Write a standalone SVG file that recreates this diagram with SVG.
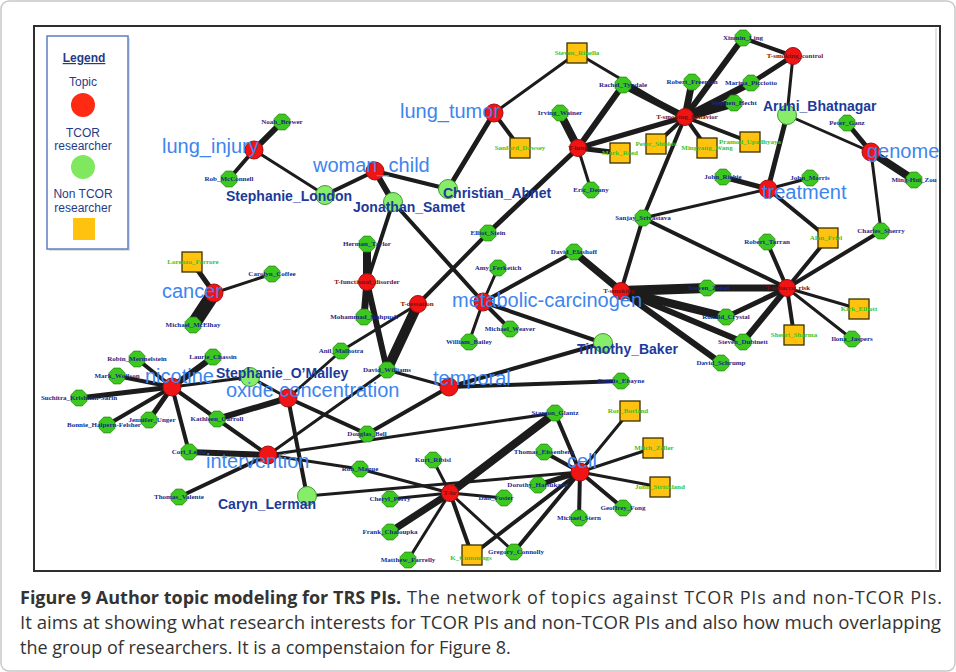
<svg xmlns="http://www.w3.org/2000/svg" width="956" height="672" viewBox="0 0 956 672">
<defs>
<polygon id="oct" points="7.9,3.3 3.3,7.9 -3.3,7.9 -7.9,3.3 -7.9,-3.3 -3.3,-7.9 3.3,-7.9 7.9,-3.3"/>
<rect id="sq" x="-10" y="-10" width="20" height="20"/>
<style>
.e{stroke:#1c1c1c;stroke-linecap:round;fill:none}
.topic{fill:#f01414;stroke:#a01010;stroke-width:1}
.tcor{fill:#86ec6a;stroke:#3f9a30;stroke-width:1}
.res{fill:#3cc81e;stroke:#2a8a14;stroke-width:0.8}
.non{fill:#ffc20e;stroke:#3a3000;stroke-width:1.3}
.tl{font-family:"Liberation Sans",Arial,sans-serif;font-size:20px;fill:#3d85ee}
.tc{font-family:"Liberation Sans",Arial,sans-serif;font-weight:bold;font-size:14px;fill:#1c3a9a}
.sl{font-family:"Liberation Serif","Times New Roman",serif;font-weight:bold;font-size:7px;fill:#1a2a8c;text-anchor:middle}
.gl{font-family:"Liberation Serif","Times New Roman",serif;font-weight:bold;font-size:7px;fill:#3cc228;text-anchor:middle}
.rl{font-family:"Liberation Serif","Times New Roman",serif;font-weight:bold;font-size:7px;fill:#7a1010;text-anchor:middle}
.lg{font-family:"Liberation Sans",Arial,sans-serif;font-size:12px;fill:#1f3c88;text-anchor:middle}
.cap{font-family:"Open Sans","Liberation Sans",sans-serif;font-size:18px;fill:#333}
</style>
</defs>
<rect x="1" y="1" width="954" height="670" rx="8" fill="#fff" stroke="#c8c8c8" stroke-width="1.5"/>
<rect x="34" y="26" width="906" height="545" fill="#fff" stroke="#2e2e2e" stroke-width="2"/>
<line x1="936" y1="28" x2="936" y2="569" stroke="#d8d8d8" stroke-width="1.5"/>

<g id="legend">
<rect x="49" y="38" width="81" height="213" fill="#c8c8c8" opacity="0.6"/>
<rect x="47" y="36" width="81" height="213" fill="#fff" stroke="#5b7fc0" stroke-width="1.5"/>
<text class="lg" x="84" y="62" font-weight="bold" text-decoration="underline">Legend</text>
<text class="lg" x="83" y="86">Topic</text>
<circle cx="83" cy="105" r="12" fill="#ff2a14"/>
<text class="lg" x="83" y="137">TCOR</text>
<text class="lg" x="83" y="150">researcher</text>
<circle cx="83" cy="167" r="12" fill="#7fe85e"/>
<text class="lg" x="83" y="198">Non TCOR</text>
<text class="lg" x="83" y="212">researcher</text>
<rect x="73" y="218" width="22" height="22" fill="#ffc20e"/>
</g>

<g id="connectors">
<line class="e" x1="254" y1="150" x2="282" y2="122" stroke-width="6"/>
<line class="e" x1="254" y1="150" x2="229" y2="179" stroke-width="4"/>
<line class="e" x1="254" y1="150" x2="325" y2="195" stroke-width="3"/>
<line class="e" x1="375" y1="171" x2="325" y2="195" stroke-width="4"/>
<line class="e" x1="375" y1="171" x2="393" y2="202" stroke-width="6"/>
<line class="e" x1="375" y1="171" x2="448" y2="189" stroke-width="4"/>
<line class="e" x1="494" y1="113" x2="448" y2="189" stroke-width="5"/>
<line class="e" x1="494" y1="113" x2="577" y2="53" stroke-width="3"/>
<line class="e" x1="494" y1="113" x2="520" y2="148" stroke-width="4"/>
<line class="e" x1="578" y1="148" x2="560" y2="113" stroke-width="8"/>
<line class="e" x1="578" y1="148" x2="623" y2="85" stroke-width="6"/>
<line class="e" x1="578" y1="148" x2="620" y2="153" stroke-width="5"/>
<line class="e" x1="578" y1="148" x2="591" y2="190" stroke-width="3"/>
<line class="e" x1="578" y1="148" x2="685" y2="117" stroke-width="5"/>
<line class="e" x1="578" y1="148" x2="488" y2="233" stroke-width="5"/>
<line class="e" x1="418" y1="304" x2="488" y2="233" stroke-width="4"/>
<line class="e" x1="393" y1="202" x2="483" y2="302" stroke-width="4"/>
<line class="e" x1="393" y1="202" x2="367" y2="282" stroke-width="4"/>
<line class="e" x1="367" y1="282" x2="367" y2="244" stroke-width="8"/>
<line class="e" x1="367" y1="282" x2="364" y2="317" stroke-width="7"/>
<line class="e" x1="367" y1="282" x2="387" y2="370" stroke-width="6"/>
<line class="e" x1="418" y1="304" x2="387" y2="370" stroke-width="10"/>
<line class="e" x1="418" y1="304" x2="341" y2="351" stroke-width="3"/>
<line class="e" x1="341" y1="351" x2="288" y2="398" stroke-width="3"/>
<line class="e" x1="214" y1="293" x2="192" y2="262" stroke-width="5"/>
<line class="e" x1="214" y1="293" x2="193" y2="325" stroke-width="14"/>
<line class="e" x1="214" y1="293" x2="272" y2="274" stroke-width="3"/>
<line class="e" x1="172" y1="387" x2="137" y2="359" stroke-width="4"/>
<line class="e" x1="172" y1="387" x2="213" y2="357" stroke-width="6"/>
<line class="e" x1="172" y1="387" x2="117" y2="376" stroke-width="4"/>
<line class="e" x1="172" y1="387" x2="79" y2="398" stroke-width="5"/>
<line class="e" x1="172" y1="387" x2="107" y2="425" stroke-width="4"/>
<line class="e" x1="172" y1="387" x2="149" y2="420" stroke-width="5"/>
<line class="e" x1="172" y1="387" x2="217" y2="419" stroke-width="4"/>
<line class="e" x1="172" y1="387" x2="189" y2="452" stroke-width="4"/>
<line class="e" x1="172" y1="387" x2="250" y2="377" stroke-width="3"/>
<line class="e" x1="250" y1="377" x2="288" y2="398" stroke-width="3"/>
<line class="e" x1="288" y1="398" x2="217" y2="419" stroke-width="6"/>
<line class="e" x1="288" y1="398" x2="367" y2="434" stroke-width="4"/>
<line class="e" x1="288" y1="398" x2="307" y2="496" stroke-width="4"/>
<line class="e" x1="268" y1="455" x2="217" y2="419" stroke-width="4"/>
<line class="e" x1="268" y1="455" x2="189" y2="452" stroke-width="6"/>
<line class="e" x1="268" y1="455" x2="179" y2="497" stroke-width="4"/>
<line class="e" x1="268" y1="455" x2="387" y2="370" stroke-width="3"/>
<line class="e" x1="268" y1="455" x2="555" y2="413" stroke-width="3"/>
<line class="e" x1="268" y1="455" x2="360" y2="469" stroke-width="3"/>
<line class="e" x1="449" y1="387" x2="367" y2="434" stroke-width="4"/>
<line class="e" x1="449" y1="387" x2="603" y2="343" stroke-width="4"/>
<line class="e" x1="449" y1="387" x2="621" y2="381" stroke-width="4"/>
<line class="e" x1="449" y1="387" x2="387" y2="370" stroke-width="3"/>
<line class="e" x1="483" y1="302" x2="498" y2="268" stroke-width="3"/>
<line class="e" x1="483" y1="302" x2="574" y2="252" stroke-width="4"/>
<line class="e" x1="483" y1="302" x2="510" y2="329" stroke-width="4"/>
<line class="e" x1="483" y1="302" x2="469" y2="342" stroke-width="3"/>
<line class="e" x1="483" y1="302" x2="603" y2="343" stroke-width="4"/>
<line class="e" x1="621" y1="291" x2="574" y2="252" stroke-width="7"/>
<line class="e" x1="621" y1="291" x2="643" y2="218" stroke-width="4"/>
<line class="e" x1="621" y1="291" x2="707" y2="288" stroke-width="10"/>
<line class="e" x1="621" y1="291" x2="726" y2="317" stroke-width="8"/>
<line class="e" x1="621" y1="291" x2="743" y2="342" stroke-width="6"/>
<line class="e" x1="621" y1="291" x2="721" y2="363" stroke-width="6"/>
<line class="e" x1="643" y1="218" x2="685" y2="117" stroke-width="4"/>
<line class="e" x1="643" y1="218" x2="768" y2="189" stroke-width="3"/>
<line class="e" x1="643" y1="218" x2="787" y2="288" stroke-width="4"/>
<line class="e" x1="787" y1="288" x2="707" y2="288" stroke-width="7"/>
<line class="e" x1="787" y1="288" x2="767" y2="242" stroke-width="4"/>
<line class="e" x1="787" y1="288" x2="828" y2="238" stroke-width="4"/>
<line class="e" x1="787" y1="288" x2="881" y2="231" stroke-width="4"/>
<line class="e" x1="787" y1="288" x2="859" y2="309" stroke-width="3"/>
<line class="e" x1="787" y1="288" x2="852" y2="339" stroke-width="3"/>
<line class="e" x1="787" y1="288" x2="794" y2="335" stroke-width="4"/>
<line class="e" x1="787" y1="288" x2="743" y2="342" stroke-width="6"/>
<line class="e" x1="787" y1="288" x2="726" y2="317" stroke-width="5"/>
<line class="e" x1="768" y1="189" x2="723" y2="177" stroke-width="5"/>
<line class="e" x1="768" y1="189" x2="810" y2="178" stroke-width="3"/>
<line class="e" x1="768" y1="189" x2="787" y2="115" stroke-width="5"/>
<line class="e" x1="768" y1="189" x2="828" y2="238" stroke-width="4"/>
<line class="e" x1="787" y1="115" x2="871" y2="152" stroke-width="3"/>
<line class="e" x1="787" y1="115" x2="793" y2="56" stroke-width="3"/>
<line class="e" x1="871" y1="152" x2="847" y2="123" stroke-width="5"/>
<line class="e" x1="871" y1="152" x2="914" y2="180" stroke-width="8"/>
<line class="e" x1="871" y1="152" x2="881" y2="231" stroke-width="3"/>
<line class="e" x1="793" y1="56" x2="743" y2="38" stroke-width="4"/>
<line class="e" x1="793" y1="56" x2="751" y2="83" stroke-width="5"/>
<line class="e" x1="685" y1="117" x2="743" y2="38" stroke-width="6"/>
<line class="e" x1="685" y1="117" x2="692" y2="82" stroke-width="7"/>
<line class="e" x1="685" y1="117" x2="623" y2="85" stroke-width="7"/>
<line class="e" x1="685" y1="117" x2="577" y2="53" stroke-width="3"/>
<line class="e" x1="685" y1="117" x2="751" y2="83" stroke-width="7"/>
<line class="e" x1="685" y1="117" x2="734" y2="103" stroke-width="9"/>
<line class="e" x1="685" y1="117" x2="656" y2="144" stroke-width="4"/>
<line class="e" x1="685" y1="117" x2="707" y2="148" stroke-width="4"/>
<line class="e" x1="685" y1="117" x2="750" y2="142" stroke-width="4"/>
<line class="e" x1="450" y1="493" x2="433" y2="460" stroke-width="3"/>
<line class="e" x1="450" y1="493" x2="390" y2="499" stroke-width="3"/>
<line class="e" x1="450" y1="493" x2="390" y2="532" stroke-width="7"/>
<line class="e" x1="450" y1="493" x2="408" y2="560" stroke-width="3"/>
<line class="e" x1="450" y1="493" x2="472" y2="555" stroke-width="4"/>
<line class="e" x1="450" y1="493" x2="360" y2="469" stroke-width="3"/>
<line class="e" x1="450" y1="493" x2="555" y2="413" stroke-width="8"/>
<line class="e" x1="450" y1="493" x2="504" y2="498" stroke-width="3"/>
<line class="e" x1="450" y1="493" x2="514" y2="552" stroke-width="3"/>
<line class="e" x1="307" y1="496" x2="580" y2="472" stroke-width="3"/>
<line class="e" x1="580" y1="472" x2="555" y2="413" stroke-width="4"/>
<line class="e" x1="580" y1="472" x2="544" y2="452" stroke-width="4"/>
<line class="e" x1="580" y1="472" x2="630" y2="411" stroke-width="3"/>
<line class="e" x1="580" y1="472" x2="653" y2="448" stroke-width="3"/>
<line class="e" x1="580" y1="472" x2="660" y2="487" stroke-width="3"/>
<line class="e" x1="580" y1="472" x2="623" y2="508" stroke-width="4"/>
<line class="e" x1="580" y1="472" x2="579" y2="518" stroke-width="4"/>
<line class="e" x1="580" y1="472" x2="538" y2="485" stroke-width="5"/>
<line class="e" x1="580" y1="472" x2="514" y2="552" stroke-width="4"/>
<line class="e" x1="580" y1="472" x2="472" y2="555" stroke-width="4"/>
</g>

<!-- small researcher nodes -->
<g id="n-noah-brewer"><use href="#oct" class="res" x="282" y="122"/><text class="sl" x="282" y="124">Noah_Brewer</text></g>
<g id="n-rob-mcconnell"><use href="#oct" class="res" x="229" y="179"/><text class="sl" x="229" y="181">Rob_McConnell</text></g>
<g id="n-carolyn-coffee"><use href="#oct" class="res" x="272" y="274"/><text class="sl" x="272" y="276">Carolyn_Coffee</text></g>
<g id="n-michael-mcelhay"><use href="#oct" class="res" x="193" y="325"/><text class="sl" x="193" y="327">Michael_McElhay</text></g>
<g id="n-herman-taylor"><use href="#oct" class="res" x="367" y="244"/><text class="sl" x="367" y="246">Herman_Taylor</text></g>
<g id="n-mohammad"><use href="#oct" class="res" x="364" y="317"/><text class="sl" x="364" y="319">Mohammad_Siahpush</text></g>
<g id="n-anil"><use href="#oct" class="res" x="341" y="351"/><text class="sl" x="341" y="353">Anil_Malhotra</text></g>
<g id="n-david-williams"><use href="#oct" class="res" x="387" y="370"/><text class="sl" x="387" y="372">David_Williams</text></g>
<g id="n-elliot-stein"><use href="#oct" class="res" x="488" y="233"/><text class="sl" x="488" y="235">Elliot_Stein</text></g>
<g id="n-amy"><use href="#oct" class="res" x="498" y="268"/><text class="sl" x="498" y="270">Amy_Ferketich</text></g>
<g id="n-michael-weaver"><use href="#oct" class="res" x="510" y="329"/><text class="sl" x="510" y="331">Michael_Weaver</text></g>
<g id="n-william-bailey"><use href="#oct" class="res" x="469" y="342"/><text class="sl" x="469" y="344">William_Bailey</text></g>
<g id="n-david-elashoff"><use href="#oct" class="res" x="574" y="252"/><text class="sl" x="574" y="254">David_Elashoff</text></g>
<g id="n-sanjay"><use href="#oct" class="res" x="643" y="218"/><text class="sl" x="643" y="220">Sanjay_Srivastava</text></g>
<g id="n-steven-zeisel"><use href="#oct" class="res" x="707" y="288"/><text class="sl" x="709" y="290">Steven_Zeisel</text></g>
<g id="n-ronald-crystal"><use href="#oct" class="res" x="726" y="317"/><text class="sl" x="726" y="319">Ronald_Crystal</text></g>
<g id="n-steven-dubinett"><use href="#oct" class="res" x="743" y="342"/><text class="sl" x="743" y="344">Steven_Dubinett</text></g>
<g id="n-david-schrump"><use href="#oct" class="res" x="721" y="363"/><text class="sl" x="721" y="365">David_Schrump</text></g>
<g id="n-robert-tarran"><use href="#oct" class="res" x="767" y="242"/><text class="sl" x="767" y="244">Robert_Tarran</text></g>
<g id="n-charles"><use href="#oct" class="res" x="881" y="231"/><text class="sl" x="881" y="233">Charles_Sherry</text></g>
<g id="n-ilona"><use href="#oct" class="res" x="852" y="339"/><text class="sl" x="852" y="341">Ilona_Jaspers</text></g>
<g id="n-peter-ganz"><use href="#oct" class="res" x="847" y="123"/><text class="sl" x="847" y="125">Peter_Ganz</text></g>
<g id="n-ming-hui"><use href="#oct" class="res" x="914" y="180"/><text class="sl" x="914" y="182">Ming-Hui_Zou</text></g>
<g id="n-john-morris"><use href="#oct" class="res" x="810" y="178"/><text class="sl" x="810" y="180">John_Morris</text></g>
<g id="n-john-richie"><use href="#oct" class="res" x="723" y="177"/><text class="sl" x="723" y="179">John_Richie</text></g>
<g id="n-xinmin"><use href="#oct" class="res" x="743" y="38"/><text class="sl" x="743" y="40">Xinmin_Ling</text></g>
<g id="n-marina"><use href="#oct" class="res" x="751" y="83"/><text class="sl" x="751" y="85">Marina_Picciotto</text></g>
<g id="n-stephen-hecht"><use href="#oct" class="res" x="734" y="103"/><text class="sl" x="734" y="105">Stephen_Hecht</text></g>
<g id="n-robert-freeman"><use href="#oct" class="res" x="692" y="82"/><text class="sl" x="692" y="84">Robert_Freeman</text></g>
<g id="n-rachel"><use href="#oct" class="res" x="623" y="85"/><text class="sl" x="623" y="87">Rachel_Tyndale</text></g>
<g id="n-irving"><use href="#oct" class="res" x="560" y="113"/><text class="sl" x="560" y="115">Irving_Wainer</text></g>
<g id="n-eric"><use href="#oct" class="res" x="591" y="190"/><text class="sl" x="591" y="192">Eric_Deany</text></g>
<g id="n-robin"><use href="#oct" class="res" x="137" y="359"/><text class="sl" x="137" y="361">Robin_Mermelstein</text></g>
<g id="n-laurie"><use href="#oct" class="res" x="213" y="357"/><text class="sl" x="213" y="359">Laurie_Chassin</text></g>
<g id="n-mark-wolfson"><use href="#oct" class="res" x="117" y="376"/><text class="sl" x="117" y="378">Mark_Wolfson</text></g>
<g id="n-suchitra"><use href="#oct" class="res" x="79" y="398"/><text class="sl" x="79" y="400">Suchitra_Krishnan-Sarin</text></g>
<g id="n-bonnie"><use href="#oct" class="res" x="107" y="425"/><text class="sl" x="104" y="427">Bonnie_Halpern-Felsher</text></g>
<g id="n-jennifer"><use href="#oct" class="res" x="149" y="420"/><text class="sl" x="152" y="422">Jennifer_Unger</text></g>
<g id="n-kathleen"><use href="#oct" class="res" x="217" y="419"/><text class="sl" x="217" y="421">Kathleen_Carroll</text></g>
<g id="n-cori"><use href="#oct" class="res" x="189" y="452"/><text class="sl" x="189" y="454">Cori_Leslie</text></g>
<g id="n-thomas-valente"><use href="#oct" class="res" x="179" y="497"/><text class="sl" x="179" y="499">Thomas_Valente</text></g>
<g id="n-douglas"><use href="#oct" class="res" x="367" y="434"/><text class="sl" x="367" y="436">Douglas_Bell</text></g>
<g id="n-ron-mague"><use href="#oct" class="res" x="360" y="469"/><text class="sl" x="360" y="471">Ron_Mague</text></g>
<g id="n-kurt"><use href="#oct" class="res" x="433" y="460"/><text class="sl" x="433" y="462">Kurt_Ribisl</text></g>
<g id="n-cheryl"><use href="#oct" class="res" x="390" y="499"/><text class="sl" x="390" y="501">Cheryl_Perry</text></g>
<g id="n-frank"><use href="#oct" class="res" x="390" y="532"/><text class="sl" x="390" y="534">Frank_Chaloupka</text></g>
<g id="n-matthew"><use href="#oct" class="res" x="408" y="560"/><text class="sl" x="408" y="562">Matthew_Farrelly</text></g>
<g id="n-dennis"><use href="#oct" class="res" x="621" y="381"/><text class="sl" x="621" y="383">Dennis_Ebayne</text></g>
<g id="n-stanton"><use href="#oct" class="res" x="555" y="413"/><text class="sl" x="555" y="415">Stanton_Glantz</text></g>
<g id="n-thomas-e"><use href="#oct" class="res" x="544" y="452"/><text class="sl" x="544" y="454">Thomas_Eissenberg</text></g>
<g id="n-dorothy"><use href="#oct" class="res" x="538" y="485"/><text class="sl" x="538" y="487">Dorothy_Hatsukami</text></g>
<g id="n-dan-foster"><use href="#oct" class="res" x="504" y="498"/><text class="sl" x="496" y="500">Dan_Foster</text></g>
<g id="n-geoffrey"><use href="#oct" class="res" x="623" y="508"/><text class="sl" x="623" y="510">Geoffrey_Fong</text></g>
<g id="n-michael-stern"><use href="#oct" class="res" x="579" y="518"/><text class="sl" x="579" y="520">Michael_Stern</text></g>
<g id="n-gregory"><use href="#oct" class="res" x="514" y="552"/><text class="sl" x="516" y="554">Gregory_Connolly</text></g>

<!-- non TCOR researchers -->
<g id="n-lorenzo"><use href="#sq" class="non" x="192" y="262"/><text class="gl" x="193" y="264">Lorenzo_Ferrore</text></g>
<g id="n-albert"><use href="#sq" class="non" x="828" y="238"/><text class="gl" x="826" y="240">Alan_Friel</text></g>
<g id="n-kirk"><use href="#sq" class="non" x="859" y="309"/><text class="gl" x="859" y="311">Kirk_Elliott</text></g>
<g id="n-sherri"><use href="#sq" class="non" x="794" y="335"/><text class="gl" x="794" y="337">Sherri_Sharma</text></g>
<g id="n-steven-rinella"><use href="#sq" class="non" x="577" y="53"/><text class="gl" x="577" y="55">Steven_Rinella</text></g>
<g id="n-sanford"><use href="#sq" class="non" x="520" y="148"/><text class="gl" x="520" y="150">Sanford_Dawsey</text></g>
<g id="n-mark-reed"><use href="#sq" class="non" x="620" y="153"/><text class="gl" x="620" y="155">Mark_Reed</text></g>
<g id="n-peter-shields"><use href="#sq" class="non" x="656" y="144"/><text class="gl" x="656" y="146">Peter_Shields</text></g>
<g id="n-mingyang"><use href="#sq" class="non" x="707" y="148"/><text class="gl" x="707" y="150">Mingyang_Wang</text></g>
<g id="n-pramod"><use href="#sq" class="non" x="750" y="142"/><text class="gl" x="750" y="144">Pramod_Upadhyaya</text></g>
<g id="n-ron-borland"><use href="#sq" class="non" x="630" y="411"/><text class="gl" x="628" y="413">Ron_Borland</text></g>
<g id="n-mitch"><use href="#sq" class="non" x="653" y="448"/><text class="gl" x="654" y="450">Mitch_Zeller</text></g>
<g id="n-john-strickland"><use href="#sq" class="non" x="660" y="487"/><text class="gl" x="660" y="489">John_Strickland</text></g>
<g id="n-k-cummings"><use href="#sq" class="non" x="472" y="555"/><text class="gl" x="471" y="560">K_Cummings</text></g>

<!-- TCOR researchers (large) -->
<g id="n-stephanie-london"><circle class="tcor" cx="325" cy="195" r="9.5"/><text class="tc" x="226" y="201">Stephanie_London</text></g>
<g id="n-jonathan-samet"><circle class="tcor" cx="393" cy="202" r="9.5"/><text class="tc" x="353" y="212">Jonathan_Samet</text></g>
<g id="n-christian-abnet"><circle class="tcor" cx="448" cy="189" r="9.5"/><text class="tc" x="443" y="198">Christian_Abnet</text></g>
<g id="n-aruni"><circle class="tcor" cx="787" cy="115" r="9.5"/><text class="tc" x="763" y="111">Aruni_Bhatnagar</text></g>
<g id="n-timothy"><circle class="tcor" cx="603" cy="343" r="9.5"/><text class="tc" x="577" y="354">Timothy_Baker</text></g>
<g id="n-stephanie-omalley"><circle class="tcor" cx="250" cy="377" r="9.5"/><text class="tc" x="216" y="378">Stephanie_O’Malley</text></g>
<g id="n-caryn"><circle class="tcor" cx="307" cy="496" r="9.5"/><text class="tc" x="218" y="509">Caryn_Lerman</text></g>

<!-- small topics -->
<g id="t-smoking-control"><circle class="topic" cx="793" cy="56" r="8.5"/><text class="rl" x="795" y="58">T-smoking_control</text></g>
<g id="t-smoking-behavior"><circle class="topic" cx="685" cy="117" r="8.5"/><text class="rl" x="687" y="119">T-smoking_behavior</text></g>
<g id="t-lung"><circle class="topic" cx="578" cy="148" r="8.5"/><text class="rl" x="578" y="150">T-lung</text></g>
<g id="t-functional"><circle class="topic" cx="367" cy="282" r="8.5"/><text class="rl" x="367" y="284">T-functional_disorder</text></g>
<g id="t-cessation"><circle class="topic" cx="418" cy="304" r="8.5"/><text class="rl" x="417" y="306">T-cessation</text></g>
<g id="t-smoking"><circle class="topic" cx="621" cy="291" r="8.5"/><text class="rl" x="619" y="293">T-smoking</text></g>
<g id="t-tobacco-risk"><circle class="topic" cx="787" cy="288" r="8.5"/><text class="rl" x="788" y="290">T-tobacco_risk</text></g>
<g id="t-hr"><circle class="topic" cx="450" cy="493" r="8.5"/><text class="rl" x="450" y="495">T-hr</text></g>

<!-- main topics -->
<g id="t-lung-injury"><circle class="topic" cx="254" cy="150" r="9"/><text class="tl" x="162" y="153">lung_injury</text></g>
<g id="t-woman-child"><circle class="topic" cx="375" cy="171" r="9"/><text class="tl" x="313" y="172">woman_child</text></g>
<g id="t-lung-tumor"><circle class="topic" cx="494" cy="113" r="9"/><text class="tl" x="400" y="118">lung_tumor</text></g>
<g id="t-cancer"><circle class="topic" cx="214" cy="293" r="9"/><text class="tl" x="162" y="298">cancer</text></g>
<g id="t-nicotine"><circle class="topic" cx="172" cy="387" r="9"/><text class="tl" x="145" y="383">nicotine</text></g>
<g id="t-oxide"><circle class="topic" cx="288" cy="398" r="9"/><text class="tl" x="226" y="397">oxide concentration</text></g>
<g id="t-intervention"><circle class="topic" cx="268" cy="455" r="9"/><text class="tl" x="206" y="468">intervention</text></g>
<g id="t-temporal"><circle class="topic" cx="449" cy="387" r="9"/><text class="tl" x="433" y="385">temporal</text></g>
<g id="t-metabolic"><circle class="topic" cx="483" cy="302" r="9"/><text class="tl" x="452" y="307">metabolic-carcinogen</text></g>
<g id="t-cell"><circle class="topic" cx="580" cy="472" r="9"/><text class="tl" x="567" y="468">cell</text></g>
<g id="t-treatment"><circle class="topic" cx="768" cy="189" r="9"/><text class="tl" x="762" y="199">treatment</text></g>
<g id="t-genome"><circle class="topic" cx="871" cy="152" r="9"/><text class="tl" x="867" y="158">genome</text></g>

<g id="caption">
<text class="cap" x="20" y="604" font-weight="bold" fill="#1a1a1a">Figure 9 Author topic modeling for TRS PIs.</text>
<text class="cap" x="407" y="604" textLength="535" lengthAdjust="spacing">The network of topics against TCOR PIs and non-TCOR PIs.</text>
<text class="cap" x="20" y="629" textLength="921" lengthAdjust="spacingAndGlyphs">It aims at showing what research interests for TCOR PIs and non-TCOR PIs and also how much overlapping</text>
<text class="cap" x="20" y="654">the group of researchers. It is a compenstaion for Figure 8.</text>
</g>
</svg>
